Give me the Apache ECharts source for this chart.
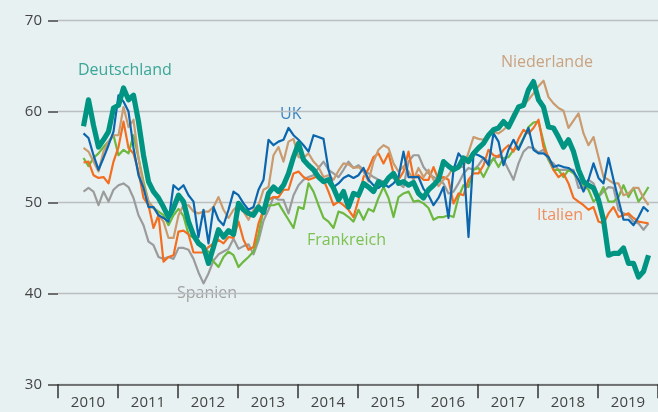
<!DOCTYPE html>
<html>
<head>
<meta charset="UTF-8">
<title>Einkaufsmanagerindizes</title>
<style>
  html, body { margin: 0; padding: 0; background: #e8f1f2; }
  #main { width: 658px; height: 412px; }
</style>
</head>
<body>
<div id="main"></div>
<script src="https://cdn.jsdelivr.net/npm/echarts@6/dist/echarts.min.js"></script>
<script>
// Jahre auf der x-Achse
var years = ['2010', '2011', '2012', '2013', '2014', '2015', '2016', '2017', '2018', '2019'];
// erster Monatswert liegt etwa bei Mitte 2010 (Monatsindex ab Jan 2010)
var startMonth = 5.1;

var deutschland = [58.4, 61.3, 58.5, 56.1, 56.9, 57.8, 60.4, 60.7, 62.6, 61.3, 61.8, 58.9, 55.2, 52.3, 51.2, 50.5, 49.5, 48.4, 49.4, 50.8,
  50.1, 47.9, 46.4, 45.5, 45.1, 43.3, 45.1, 47.0, 46.2, 46.9, 46.5, 49.9, 49.2, 48.8, 48.6, 49.5, 48.9, 51.0, 51.7, 51.2,
  51.9, 53.2, 55.0, 56.5, 54.7, 54.1, 53.6, 52.8, 52.3, 52.5, 51.6, 50.3, 51.2, 49.5, 51.0, 50.8, 52.1, 51.7, 51.2, 52.3,
  51.9, 52.7, 53.2, 52.1, 52.3, 51.9, 52.2, 51.0, 50.5, 51.4, 51.9, 52.5, 54.5, 54.0, 53.6, 53.9, 54.9, 54.5, 55.4, 56.0,
  56.5, 57.4, 58.0, 58.2, 58.9, 58.3, 59.4, 60.5, 60.7, 62.4, 63.3, 61.3, 60.5, 58.3, 58.2, 57.2, 56.1, 56.9, 55.6, 53.6,
  52.3, 51.9, 51.6, 50.3, 48.1, 44.2, 44.4, 44.4, 45.0, 43.3, 43.3, 41.8, 42.4, 44.2];

var uk = [57.6, 57.1, 55.2, 53.6, 54.9, 56.3, 57.8, 61.8, 61.1, 60.0, 56.0, 53.0, 51.6, 49.5, 49.5, 48.6, 48.3, 47.9, 51.9, 51.4,
  51.9, 50.8, 50.1, 46.2, 49.2, 45.5, 49.5, 48.1, 47.5, 49.2, 51.2, 50.8, 49.9, 49.2, 49.5, 51.4, 52.5, 56.9, 56.3, 56.7,
  56.9, 58.2, 57.4, 56.9, 56.3, 55.6, 57.4, 57.2, 57.0, 53.6, 51.7, 52.1, 52.7, 53.0, 52.7, 53.0, 53.8, 52.5, 51.9, 51.6,
  52.1, 51.7, 52.1, 52.8, 55.6, 52.8, 52.8, 52.8, 51.5, 50.8, 49.7, 50.5, 51.7, 48.3, 53.6, 55.4, 54.7, 46.2, 55.4, 55.2,
  54.9, 54.1, 57.6, 56.7, 54.1, 55.8, 56.9, 55.8, 57.0, 58.2, 55.8, 55.4, 55.4, 55.0, 53.9, 54.1, 53.9, 53.8, 53.4, 52.5,
  51.2, 52.5, 54.3, 52.7, 52.1, 54.9, 52.5, 50.3, 48.1, 48.1, 47.5, 48.4, 49.5, 49.0];

var niederlande = [56.0, 55.6, 54.5, 53.4, 55.6, 56.7, 57.4, 57.4, 60.5, 58.3, 59.1, 54.9, 51.9, 50.1, 49.4, 48.6, 47.9, 46.1, 46.1, 48.6,
  49.7, 49.7, 49.0, 48.8, 49.0, 49.0, 49.5, 50.6, 49.2, 48.3, 49.2, 49.7, 49.0, 48.1, 49.2, 49.7, 51.4, 51.7, 55.2, 56.1,
  54.5, 56.7, 57.0, 55.0, 54.9, 55.4, 54.5, 53.9, 52.8, 53.0, 52.5, 53.5, 54.3, 54.2, 53.8, 53.9, 53.4, 52.3, 54.5, 55.8,
  56.3, 56.0, 54.3, 53.4, 54.0, 53.4, 52.5, 53.8, 52.8, 53.6, 52.5, 51.8, 52.5, 53.0, 53.9, 54.0, 53.9, 55.5, 57.2, 57.0,
  56.9, 57.6, 57.8, 57.6, 58.0, 58.5, 59.8, 60.4, 60.7, 61.3, 62.0, 62.8, 63.4, 61.6, 60.9, 60.4, 60.1, 58.2, 59.0, 59.8,
  57.6, 56.3, 57.2, 55.0, 52.8, 52.5, 52.1, 52.1, 50.8, 51.0, 51.6, 51.6, 50.5, 49.7];

var italien = [54.4, 54.5, 53.0, 52.7, 52.8, 52.1, 54.5, 56.1, 58.9, 56.0, 55.4, 53.4, 50.5, 49.7, 47.2, 48.6, 43.5, 44.0, 44.2, 46.8,
  46.9, 46.5, 44.5, 44.5, 44.5, 45.1, 45.5, 45.9, 45.5, 46.2, 46.1, 47.9, 45.9, 44.8, 45.1, 47.7, 49.2, 50.3, 50.6, 50.6,
  51.4, 51.4, 53.2, 53.4, 52.8, 52.5, 52.7, 53.0, 52.5, 51.2, 49.7, 50.1, 49.7, 49.2, 48.4, 50.3, 52.8, 53.7, 55.0, 55.4,
  54.3, 55.4, 53.2, 52.5, 53.4, 55.6, 52.8, 53.0, 52.5, 52.5, 53.9, 52.5, 52.8, 52.5, 49.9, 51.0, 50.8, 52.5, 53.2, 53.2,
  54.1, 55.8, 55.2, 55.0, 55.8, 56.3, 55.6, 57.0, 58.0, 57.6, 58.2, 59.1, 56.1, 55.0, 53.6, 52.8, 53.2, 52.1, 50.5, 50.1,
  49.7, 49.2, 49.5, 47.9, 47.7, 48.8, 49.5, 48.4, 48.6, 48.8, 48.3, 47.9, 47.8, 47.7];

var frankreich = [54.9, 54.0, 54.9, 55.4, 56.1, 56.7, 57.4, 55.2, 55.8, 55.4, 57.4, 54.9, 52.3, 50.1, 49.4, 49.0, 48.6, 47.5, 48.6, 49.3,
  48.5, 46.5, 46.1, 45.8, 45.0, 44.6, 43.5, 42.9, 44.0, 44.6, 44.2, 42.9, 43.5, 44.0, 44.6, 46.5, 49.2, 49.7, 49.7, 49.9,
  49.0, 48.1, 47.2, 49.5, 49.3, 52.1, 51.2, 49.7, 48.3, 47.9, 47.2, 49.0, 48.8, 48.4, 47.9, 49.2, 48.1, 49.3, 49.0, 50.5,
  51.7, 50.5, 48.4, 50.6, 51.0, 51.2, 50.1, 50.2, 49.9, 49.4, 48.1, 48.4, 48.4, 48.6, 48.4, 50.6, 51.9, 51.7, 53.6, 53.8,
  52.8, 53.9, 54.9, 53.9, 54.9, 55.0, 55.8, 56.0, 57.1, 58.3, 58.8, 58.9, 56.7, 54.7, 53.6, 53.6, 52.8, 53.6, 53.2, 52.5,
  51.9, 51.4, 50.1, 50.6, 51.7, 50.1, 50.1, 50.6, 51.9, 50.6, 51.6, 50.1, 50.8, 51.7];

var spanien = [51.2, 51.6, 51.2, 49.7, 51.2, 50.1, 51.4, 51.9, 52.1, 51.7, 50.5, 48.6, 47.5, 45.7, 45.3, 44.0, 43.8, 44.0, 43.8, 45.0,
  45.0, 44.8, 43.8, 42.3, 41.1, 42.2, 43.6, 44.3, 44.6, 44.9, 46.0, 44.9, 45.2, 45.4, 44.3, 45.8, 48.0, 49.2, 50.6, 50.3,
  50.3, 48.8, 50.8, 51.9, 52.5, 52.8, 53.0, 53.8, 54.5, 53.6, 53.2, 52.8, 53.6, 54.5, 53.8, 54.1, 53.6, 53.2, 52.8, 52.5,
  52.3, 52.7, 52.7, 52.1, 51.7, 54.5, 55.2, 55.2, 53.9, 53.2, 52.8, 52.5, 52.1, 51.0, 51.2, 52.1, 53.2, 53.8, 53.6, 54.1,
  54.9, 54.5, 54.7, 55.2, 54.7, 53.6, 52.5, 54.3, 55.6, 56.1, 56.0, 55.5, 55.8, 54.7, 54.3, 53.6, 53.6, 53.6, 53.6, 51.6,
  51.7, 52.5, 52.1, 50.6, 51.2, 51.7, 51.6, 49.2, 48.8, 48.6, 47.9, 47.7, 47.0, 47.7];

function toPoints(arr) {
  return arr.map(function (v, i) { return [startMonth + i, v]; });
}

function makeLine(name, arr, color, width) {
  return {
    name: name,
    type: 'line',
    xAxisIndex: 1,
    data: toPoints(arr),
    symbol: 'none',
    silent: true,
    lineStyle: { color: color, width: width, join: 'round' },
    itemStyle: { color: color }
  };
}

var myChart = echarts.init(document.getElementById('main'));

var labelFont = 'Open Sans, sans-serif';
function tag(text, x, y, color) {
  return {
    type: 'text', left: x, top: y,
    style: { text: text, fill: color, font: '16px ' + labelFont }
  };
}

myChart.setOption({
  backgroundColor: '#e8f1f2',
  animation: false,
  grid: { left: 58, right: 0, top: 20.7, bottom: 27.7 },
  xAxis: [
    {
      type: 'category',
      data: years,
      boundaryGap: true,
      axisLine: { lineStyle: { color: '#555', width: 1.5 } },
      axisTick: { show: true, length: 14, lineStyle: { color: '#333', width: 1.5 } },
      axisLabel: { color: '#444', fontSize: 15, fontFamily: labelFont, margin: 11 },
      splitLine: { show: false }
    },
    {
      type: 'value',
      min: 0,
      max: 120,
      show: false
    }
  ],
  yAxis: {
    type: 'value',
    min: 30,
    max: 70,
    interval: 10,
    axisLine: { show: false },
    axisTick: { show: true, length: 10, lineStyle: { color: '#444', width: 1.5 } },
    axisLabel: { color: '#444', fontSize: 15, fontFamily: labelFont, margin: 16 },
    splitLine: { lineStyle: { color: '#b9bec0', width: 1.3 } }
  },
  series: [
    makeLine('Spanien', spanien, '#9b9b9b', 2.2),
    makeLine('Frankreich', frankreich, '#6db83f', 2.2),
    makeLine('Italien', italien, '#f26f21', 2.2),
    makeLine('Niederlande', niederlande, '#c99b6f', 2.2),
    makeLine('UK', uk, '#0b66ad', 2.2),
    makeLine('Deutschland', deutschland, '#009482', 5.2)
  ],
  graphic: [
    tag('Deutschland', 78, 62, '#3aa697'),
    tag('UK', 280, 106, '#3a84c2'),
    tag('Niederlande', 501, 54, '#c9a27f'),
    tag('Italien', 537, 207, '#f28d5b'),
    tag('Frankreich', 307, 232, '#7cc152'),
    tag('Spanien', 177, 285, '#a3a3a3')
  ]
});

window.addEventListener('resize', function () { myChart.resize(); });
</script>
</body>
</html>
